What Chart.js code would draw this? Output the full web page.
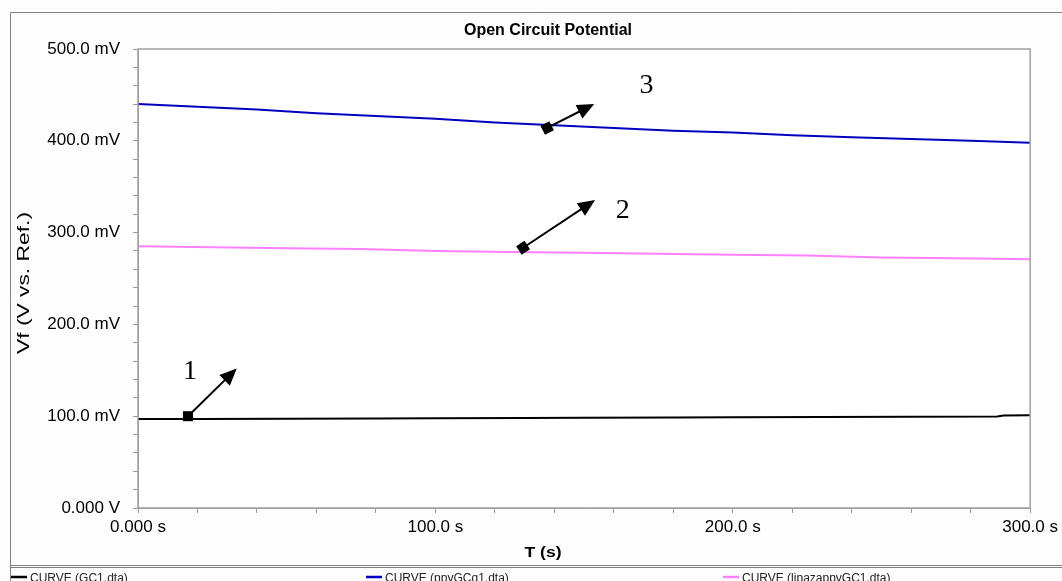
<!DOCTYPE html>
<html lang="en">
<head>
    <meta charset="UTF-8">
    <script src="https://cdn.jsdelivr.net/npm/chart.js@4.4.0/dist/chart.umd.min.js"></script>
    <title>Open Circuit Potential</title>
    <style>
        body { margin: 0; background: #fdfdfd; }
        canvas { display: block; }
    </style>
</head>
<body>
    <canvas id="ocp" width="1062" height="581"></canvas>

    <script>
        // time (s) and potential (mV)
        var tGC1 = [0, 20, 50, 80, 100, 130, 150, 180, 200, 230, 260, 289, 291, 300]
        var vGC1 = [97, 97, 97.3, 97.6, 97.8, 98.1, 98.3, 98.6, 98.8, 99.1, 99.4, 99.6, 100.8, 101]

        var tPpy = [0, 20, 40, 60, 80, 100, 120, 140, 160, 180, 200, 220, 240, 260, 280, 300]
        var vPpy = [440, 437, 434, 430, 427, 424, 420, 417, 414, 411, 409, 406, 404, 402, 400, 398]

        var tLip = [0, 25, 50, 75, 100, 125, 150, 175, 200, 225, 250, 275, 300]
        var vLip = [285, 284, 283, 282, 280, 279, 278, 277, 276, 275, 273, 272, 271]

        var seriesNames = ["CURVE (GC1.dta)", "CURVE (ppyGCq1.dta)", "CURVE (lipazappyGC1.dta)"]
        var seriesColors = ["#000000", "#0000c0", "#ff80ff"]

        // numbered arrows, in axis units (s, mV)
        var arrowLabels = ["1", "2", "3"]
        var arrowFrom = [[16.8, 100], [129.5, 283.5], [137.6, 414]]
        var arrowTo = [[33.2, 152], [153.7, 335.5], [153.4, 440]]
        var labelAt = [[17.5, 148], [163, 324], [171, 460]]

        function pts(t, v) {
            return t.map(function (x, i) { return { x: x, y: v[i] } })
        }

        // text squeezed/stretched to a given width (the source image is stretched)
        function wideText(c, txt, x, y, w) {
            var m = c.measureText(txt).width
            c.save()
            c.translate(x, y)
            c.scale(w / m, 1)
            c.fillText(txt, 0, 0)
            c.restore()
        }

        var frame = {
            id: "frame",
            beforeDraw: function (chart) {
                var c = chart.ctx, a = chart.chartArea
                c.save()
                c.fillStyle = "#fdfdfd"
                c.fillRect(0, 0, chart.width, chart.height)
                c.fillStyle = "#ffffff"
                c.fillRect(a.left, a.top, a.right - a.left, a.bottom - a.top)
                c.strokeStyle = "#808080"
                c.lineWidth = 1
                c.beginPath()
                c.moveTo(10.5, chart.height); c.lineTo(10.5, 12.5); c.lineTo(chart.width, 12.5)
                c.moveTo(10, 565.5); c.lineTo(chart.width, 565.5)
                c.moveTo(10, 567.5); c.lineTo(chart.width, 567.5)
                c.stroke()
                c.restore()
            },
            afterDraw: function (chart) {
                var c = chart.ctx, a = chart.chartArea
                var xs = chart.scales.x, ys = chart.scales.y
                c.save()
                c.strokeStyle = "#a0a0a0"
                c.lineWidth = 1.5
                c.strokeRect(a.left, a.top, a.right - a.left, a.bottom - a.top)

                c.fillStyle = "#000"
                c.textAlign = "center"
                c.textBaseline = "alphabetic"
                c.font = "bold 16px 'Liberation Sans', Arial"
                c.fillText("Open Circuit Potential", 548, 35)
                c.textBaseline = "middle"
                c.font = "bold 14px 'Liberation Sans', Arial"
                wideText(c, "T (s)", 543, 553, 37)
                c.save()
                c.translate(25, 283)
                c.rotate(-Math.PI / 2)
                c.font = "16px 'Liberation Sans', Arial"
                wideText(c, "Vf (V vs. Ref.)", 0, 0, 142)
                c.restore()

                // legend row
                var legX = [11, 366, 723]
                c.font = "12px 'Liberation Sans', Arial"
                c.textAlign = "left"
                c.textBaseline = "alphabetic"
                c.fillStyle = "#202020"
                for (var i = 0; i < 3; i++) {
                    c.strokeStyle = seriesColors[i]
                    c.lineWidth = 2.5
                    c.beginPath()
                    c.moveTo(legX[i], 577); c.lineTo(legX[i] + 16, 577)
                    c.stroke()
                    c.fillText(seriesNames[i], legX[i] + 19, 582)
                }

                // arrows
                c.textBaseline = "middle"
                for (var k = 0; k < arrowFrom.length; k++) {
                    var x0 = xs.getPixelForValue(arrowFrom[k][0]), y0 = ys.getPixelForValue(arrowFrom[k][1])
                    var x1 = xs.getPixelForValue(arrowTo[k][0]), y1 = ys.getPixelForValue(arrowTo[k][1])
                    var ang = Math.atan2(y1 - y0, x1 - x0)
                    c.strokeStyle = "#000"
                    c.fillStyle = "#000"
                    c.lineWidth = 2
                    c.beginPath()
                    c.moveTo(x0, y0)
                    c.lineTo(x1 - 12 * Math.cos(ang), y1 - 12 * Math.sin(ang))
                    c.stroke()
                    c.save()
                    c.translate(x1, y1)
                    c.rotate(ang)
                    c.beginPath()
                    c.moveTo(0, 0); c.lineTo(-17, -7.5); c.lineTo(-17, 7.5); c.closePath()
                    c.fill()
                    c.restore()
                    c.save()
                    c.translate(x0, y0)
                    c.rotate(k == 0 ? 0 : ang)
                    c.fillRect(-5, -5, 10, 10)
                    c.restore()

                    c.font = "28px 'Liberation Serif', 'Times New Roman'"
                    c.textAlign = "center"
                    c.fillText(arrowLabels[k], xs.getPixelForValue(labelAt[k][0]), ys.getPixelForValue(labelAt[k][1]))
                }
                c.restore()
            }
        }

        new Chart("ocp", {
            type: "scatter",
            data: {
                datasets: [
                    { label: seriesNames[0], data: pts(tGC1, vGC1), borderColor: seriesColors[0] },
                    { label: seriesNames[1], data: pts(tPpy, vPpy), borderColor: seriesColors[1] },
                    { label: seriesNames[2], data: pts(tLip, vLip), borderColor: seriesColors[2] }
                ].map(function (d) {
                    d.showLine = true
                    d.borderWidth = 2
                    d.pointRadius = 0
                    d.tension = 0
                    d.fill = false
                    return d
                })
            },
            options: {
                responsive: false,
                animation: false,
                events: [],
                layout: { padding: { top: 49, right: 30, left: 0, bottom: 0 } },
                plugins: { legend: { display: false }, tooltip: { enabled: false } },
                scales: {
                    x: {
                        type: "linear", min: 0, max: 300,
                        afterFit: function (s) { s.height = 73 },
                        grid: { drawOnChartArea: false, tickLength: 5, color: "#999" },
                        border: { color: "#a0a0a0" },
                        ticks: {
                            stepSize: 20, autoSkip: false, maxRotation: 0, padding: 4,
                            color: "#000", font: { family: "'Liberation Sans', Arial", size: 17 },
                            callback: function (v) {
                                if (v % 100 != 0) return ""
                                return v == 0 ? "0.000 s" : v.toFixed(1) + " s"
                            }
                        }
                    },
                    y: {
                        min: 0, max: 500,
                        afterFit: function (s) { s.width = 138 },
                        grid: { drawOnChartArea: false, tickLength: 5, color: "#999" },
                        border: { color: "#a0a0a0" },
                        ticks: {
                            stepSize: 20, autoSkip: false, padding: 13,
                            color: "#000", font: { family: "'Liberation Sans', Arial", size: 17 },
                            callback: function (v) {
                                if (v % 100 != 0) return ""
                                return v == 0 ? "0.000 V" : v.toFixed(1) + " mV"
                            }
                        }
                    }
                }
            },
            plugins: [frame]
        })
    </script>
</body>
</html>
